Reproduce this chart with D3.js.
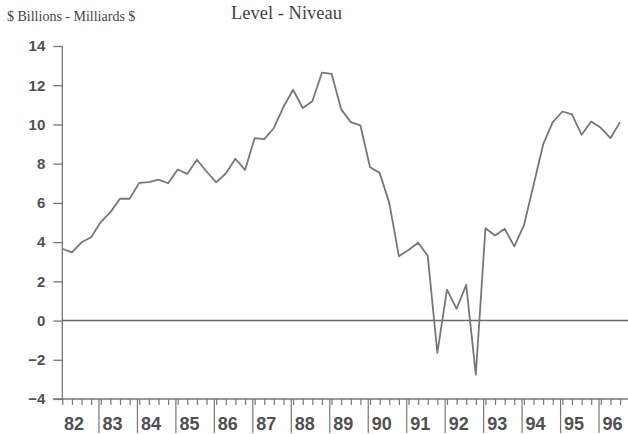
<!DOCTYPE html>
<html>
<head>
<meta charset="utf-8">
<script src="https://cdn.jsdelivr.net/npm/d3@7"></script>
<style>
  body { margin: 0; background: #fff; }
  .axisText { font-family: "Liberation Sans", Arial, sans-serif; font-weight: bold; fill: #505050; }
  .titleText { font-family: "Liberation Serif", "Times New Roman", serif; fill: #444; }
</style>
</head>
<body>
<div id="chart"></div>
<script>
// Data: quarterly level, starting 1982 Q1
let startYear = 82;
let values = [
  3.66, 3.48, 3.99, 4.25, 5.02, 5.53, 6.21, 6.21, 7.02, 7.06,
  7.19, 7.0, 7.7, 7.48, 8.2, 7.6, 7.05, 7.5, 8.25, 7.68,
  9.3, 9.25, 9.82, 10.9, 11.77, 10.84, 11.18, 12.64, 12.58, 10.77,
  10.12, 9.95, 7.82, 7.53, 6.0, 3.28, 3.6, 3.97, 3.3, -1.65,
  1.58, 0.6, 1.82, -2.76, 4.71, 4.34, 4.68, 3.78, 4.85, 6.9,
  8.98, 10.12, 10.66, 10.51, 9.47, 10.15, 9.83, 9.3, 10.12
];
let yearLabels = ["82","83","84","85","86","87","88","89","90","91","92","93","94","95","96"];
let yTicks = [-4, -2, 0, 2, 4, 6, 8, 10, 12, 14];

let svgWidth = 628;
let svgHeight = 434;

let svg = d3.select("#chart")
  .append("svg")
  .attr("width", svgWidth)
  .attr("height", svgHeight);

// quarter i sits a little after the start of its quarter
let quarterPos = i => startYear + i / 4 + 0.06;

// scales
let xScale = d3.scaleLinear()
  .domain([82, 97])
  .range([60, 637]);

let yScale = d3.scaleLinear()
  .domain([-4, 14])
  .range([399, 46]);

let axisColor = "#777";

// y axis
let leftAxis = d3.axisLeft(yScale)
  .tickValues(yTicks)
  .tickSize(9)
  .tickPadding(8);

let yAxisG = svg.append("g")
  .attr("transform", `translate(${xScale(quarterPos(0))}, 0)`)
  .call(leftAxis);
yAxisG.select(".domain").remove();
yAxisG.selectAll("line").attr("stroke", axisColor).attr("stroke-width", 1.3);
yAxisG.selectAll("text")
  .attr("class", "axisText")
  .style("font-size", "15px")
  .attr("fill", "#505050");

// y axis line
svg.append("line")
  .attr("x1", xScale(quarterPos(0))).attr("x2", xScale(quarterPos(0)))
  .attr("y1", yScale(14)).attr("y2", yScale(-4))
  .attr("stroke", axisColor).attr("stroke-width", 1.3);

// x axis with quarter ticks
let quarterTicks = values.map((d, i) => quarterPos(i));
let bottomAxis = d3.axisBottom(xScale)
  .tickValues(quarterTicks.concat([quarterPos(59)]))
  .tickSize(6)
  .tickFormat("");

let xAxisG = svg.append("g")
  .attr("transform", `translate(0, ${yScale(-4)})`)
  .call(bottomAxis);
xAxisG.select(".domain").remove();
xAxisG.selectAll("line").attr("stroke", axisColor).attr("stroke-width", 1.2);

svg.append("line")
  .attr("x1", xScale(quarterPos(0)) - 9).attr("x2", svgWidth)
  .attr("y1", yScale(-4)).attr("y2", yScale(-4))
  .attr("stroke", axisColor).attr("stroke-width", 1.5);

// year separators
let yearAxis = d3.axisBottom(xScale)
  .tickValues(d3.range(83, 97))
  .tickSize(34)
  .tickFormat("");

let sepG = svg.append("g")
  .attr("transform", `translate(0, ${yScale(-4)})`)
  .call(yearAxis);
sepG.select(".domain").remove();
sepG.selectAll("line").attr("stroke", axisColor).attr("stroke-width", 1.2);

// year labels
svg.selectAll(".yearLabel")
  .data(yearLabels)
  .enter()
  .append("text")
  .attr("class", "axisText")
  .attr("x", (d, i) => xScale(startYear + i) + 4)
  .attr("y", 430)
  .style("font-size", "18px")
  .text(d => d);

// zero line
svg.append("line")
  .attr("x1", xScale(quarterPos(0))).attr("x2", svgWidth)
  .attr("y1", yScale(0)).attr("y2", yScale(0))
  .attr("stroke", "#6a6a6a").attr("stroke-width", 1.5);

// the series
let line = d3.line()
  .x((d, i) => xScale(quarterPos(i)))
  .y(d => yScale(d));

svg.append("path")
  .datum(values)
  .attr("d", line)
  .attr("fill", "none")
  .attr("stroke", "#777")
  .attr("stroke-width", 1.8)
  .attr("stroke-linejoin", "round");

// titles
svg.append("text")
  .attr("class", "titleText")
  .attr("x", 7)
  .attr("y", 21)
  .style("font-size", "14px")
  .text("$ Billions - Milliards $");

svg.append("text")
  .attr("class", "titleText")
  .attr("x", 231)
  .attr("y", 19)
  .style("font-size", "18.5px")
  .text("Level - Niveau");
</script>
</body>
</html>
